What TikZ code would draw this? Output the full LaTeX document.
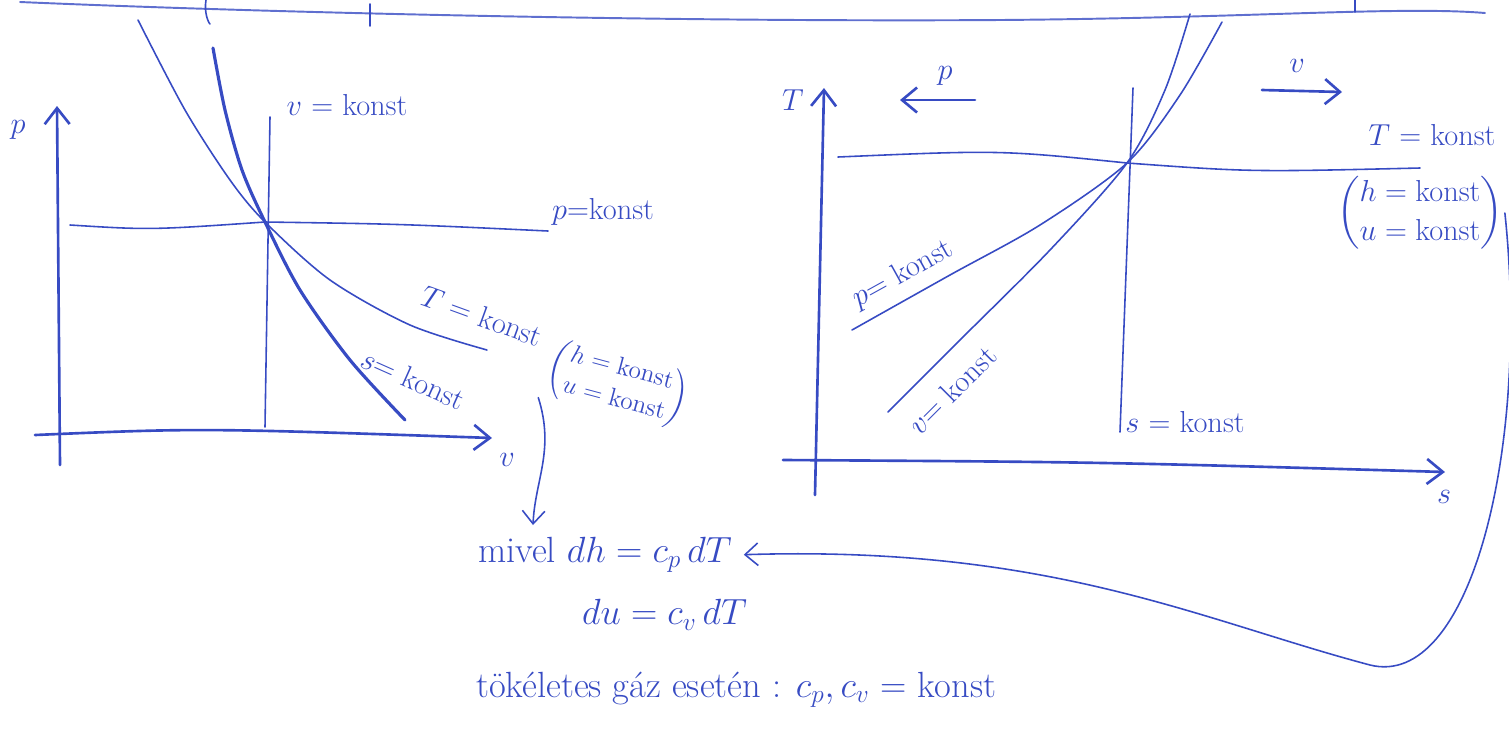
\documentclass[tikz,border=0pt]{standalone}
\usepackage{amsmath,amssymb}
\usepackage{tikz}
\usetikzlibrary{arrows.meta,positioning}
\definecolor{inkblue}{RGB}{55,75,195}
\tikzset{
  dgaxis/.style ={line width=1.5pt, inkblue, line cap=round,
                  -{Straight Barb[length=3.2mm, width=5mm]}},
  dgline/.style ={line width=0.9pt, inkblue, line cap=round},
  dgheavy/.style={line width=1.8pt, inkblue, line cap=round},
  dgfaint/.style={line width=1.1pt, inkblue!80, line cap=round},
  dglink/.style ={line width=0.9pt, inkblue, line cap=round,
                  -{Straight Barb[length=2.6mm, width=4.5mm]}},
  dgdir/.style  ={line width=1.5pt, inkblue, line cap=round,
                  -{Straight Barb[length=3mm, width=5mm]}},
  dglabel/.style={inkblue, inner sep=1pt, font=\LARGE},
  dgsmall/.style={inkblue, inner sep=1pt, font=\Large},
  dgtext/.style ={inkblue, inner sep=1pt, font=\huge, anchor=west},
}

\begin{document}
\begin{tikzpicture}[x=0.02cm, y=-0.02cm]
  \useasboundingbox (0,0) rectangle (1509,735);

  % line of the page above
  \draw[dgfaint] (20,2) .. controls (300,14) and (700,22) .. (1000,20)
                       .. controls (1250,18) and (1400,6) .. (1485,13);
  \draw[dgline] (206,0) .. controls (204,12) and (208,22) .. (210,24);
  \draw[dgline] (370,4) -- (370,26);
  \draw[dgline] (1355,0) -- (1355,12);

  % p-v diagram
  \coordinate (ptL) at (265,222);
  \draw[dgaxis] (60,465) -- (57,106);
  \draw[dgaxis] (35,435) .. controls (200,428) .. (492,438);
  \node[dglabel] (pL) at (18,130) {$p$};
  \node[dglabel] (vL) at (507,460) {$v$};
  \draw[dgline] (270,117) -- (265,427);
  \draw[dgline] (70,225) .. controls (150,230) .. (ptL) .. controls (400,224) .. (548,231);
  \draw[dgline] plot[smooth] coordinates {(138,20) (185,110) (230,180) (ptL) (330,280) (410,325) (487,350)};
  \draw[dgheavy] plot[smooth] coordinates {(213,48) (225,110) (242,170) (ptL) (300,290) (350,360) (405,420)};
  \node[dglabel] (vkL) at (347,105) {$v$ = konst};
  \node[dglabel] (pkL) at (603,212) {$p$=konst};
  \node[dglabel, rotate=-20] (TkL) at (482,316) {$T$ = konst};
  \node[dglabel, rotate=-24, anchor=north west] (skL) at (366,344) {$s$= konst};
  \node[dgsmall, rotate=-15] (huL) at (618,384)
    {$\begin{pmatrix} h = \text{konst}\\ u = \text{konst}\end{pmatrix}$};

  % T-s diagram
  \coordinate (ptR) at (1127,163);
  \draw[dgaxis] (815,495) -- (824,88);
  \draw[dgaxis] (783,460) .. controls (1100,462) .. (1445,472);
  \node[dglabel] (TR) at (793,100) {$T$};
  \node[dglabel] (sR) at (1444,497) {$s$};
  \draw[dgline] (838,157) .. controls (1000,150) .. (ptR) .. controls (1250,172) .. (1420,168);
  \draw[dgline] (1133,88) -- (1120,432);
  \draw[dgline] plot[smooth] coordinates {(852,330) (950,275) (1040,225) (ptR) (1180,95) (1222,22)};
  \draw[dgline] plot[smooth] coordinates {(888,412) (960,340) (1050,250) (ptR) (1165,90) (1190,14)};
  \node[dglabel] (pdir) at (945,76) {$p$};
  \coordinate (pdirA) at (975,100);
  \coordinate (pdirB) at (900,100);
  \draw[dgdir] (pdirA) -- (pdirB);
  \node[dglabel] (vdir) at (1297,66) {$v$};
  \coordinate (vdirA) at (1262,90);
  \coordinate (vdirB) at (1342,92);
  \draw[dgdir] (vdirA) -- (vdirB);
  \node[dglabel] (TkR) at (1432,135) {$T$ = konst};
  \node[dglabel] (huR) at (1420,213)
    {$\begin{pmatrix} h = \text{konst}\\ u = \text{konst}\end{pmatrix}$};
  \node[dglabel, rotate=29, anchor=south west] (pkR) at (860,316) {$p$= konst};
  \node[dglabel, rotate=45, anchor=north west] (vkR) at (902,422) {$v$= konst};
  \node[dglabel] (skR) at (1185,422) {$s$ = konst};

  % notes below
  \node[dgtext] (mivel) at (476,555) {mivel $dh = c_p\,dT$};
  \node[dgtext] (duline) at (580,615) {$du = c_v\,dT$};
  \node[dgtext] (gaz) at (474,690) {tökéletes gáz esetén : $c_p , c_v$ = konst};
  \coordinate (mivelTop) at (533,525);
  \draw[dglink] (huL.south west) .. controls (555,450) and (535,480) .. (mivelTop);
  \draw[dglink, shorten >=2mm] (huR.east) .. controls (1530,450) and (1470,690) .. (1370,665)
                .. controls (1200,620) and (1050,545) .. (mivel.east);
\end{tikzpicture}
\end{document}
